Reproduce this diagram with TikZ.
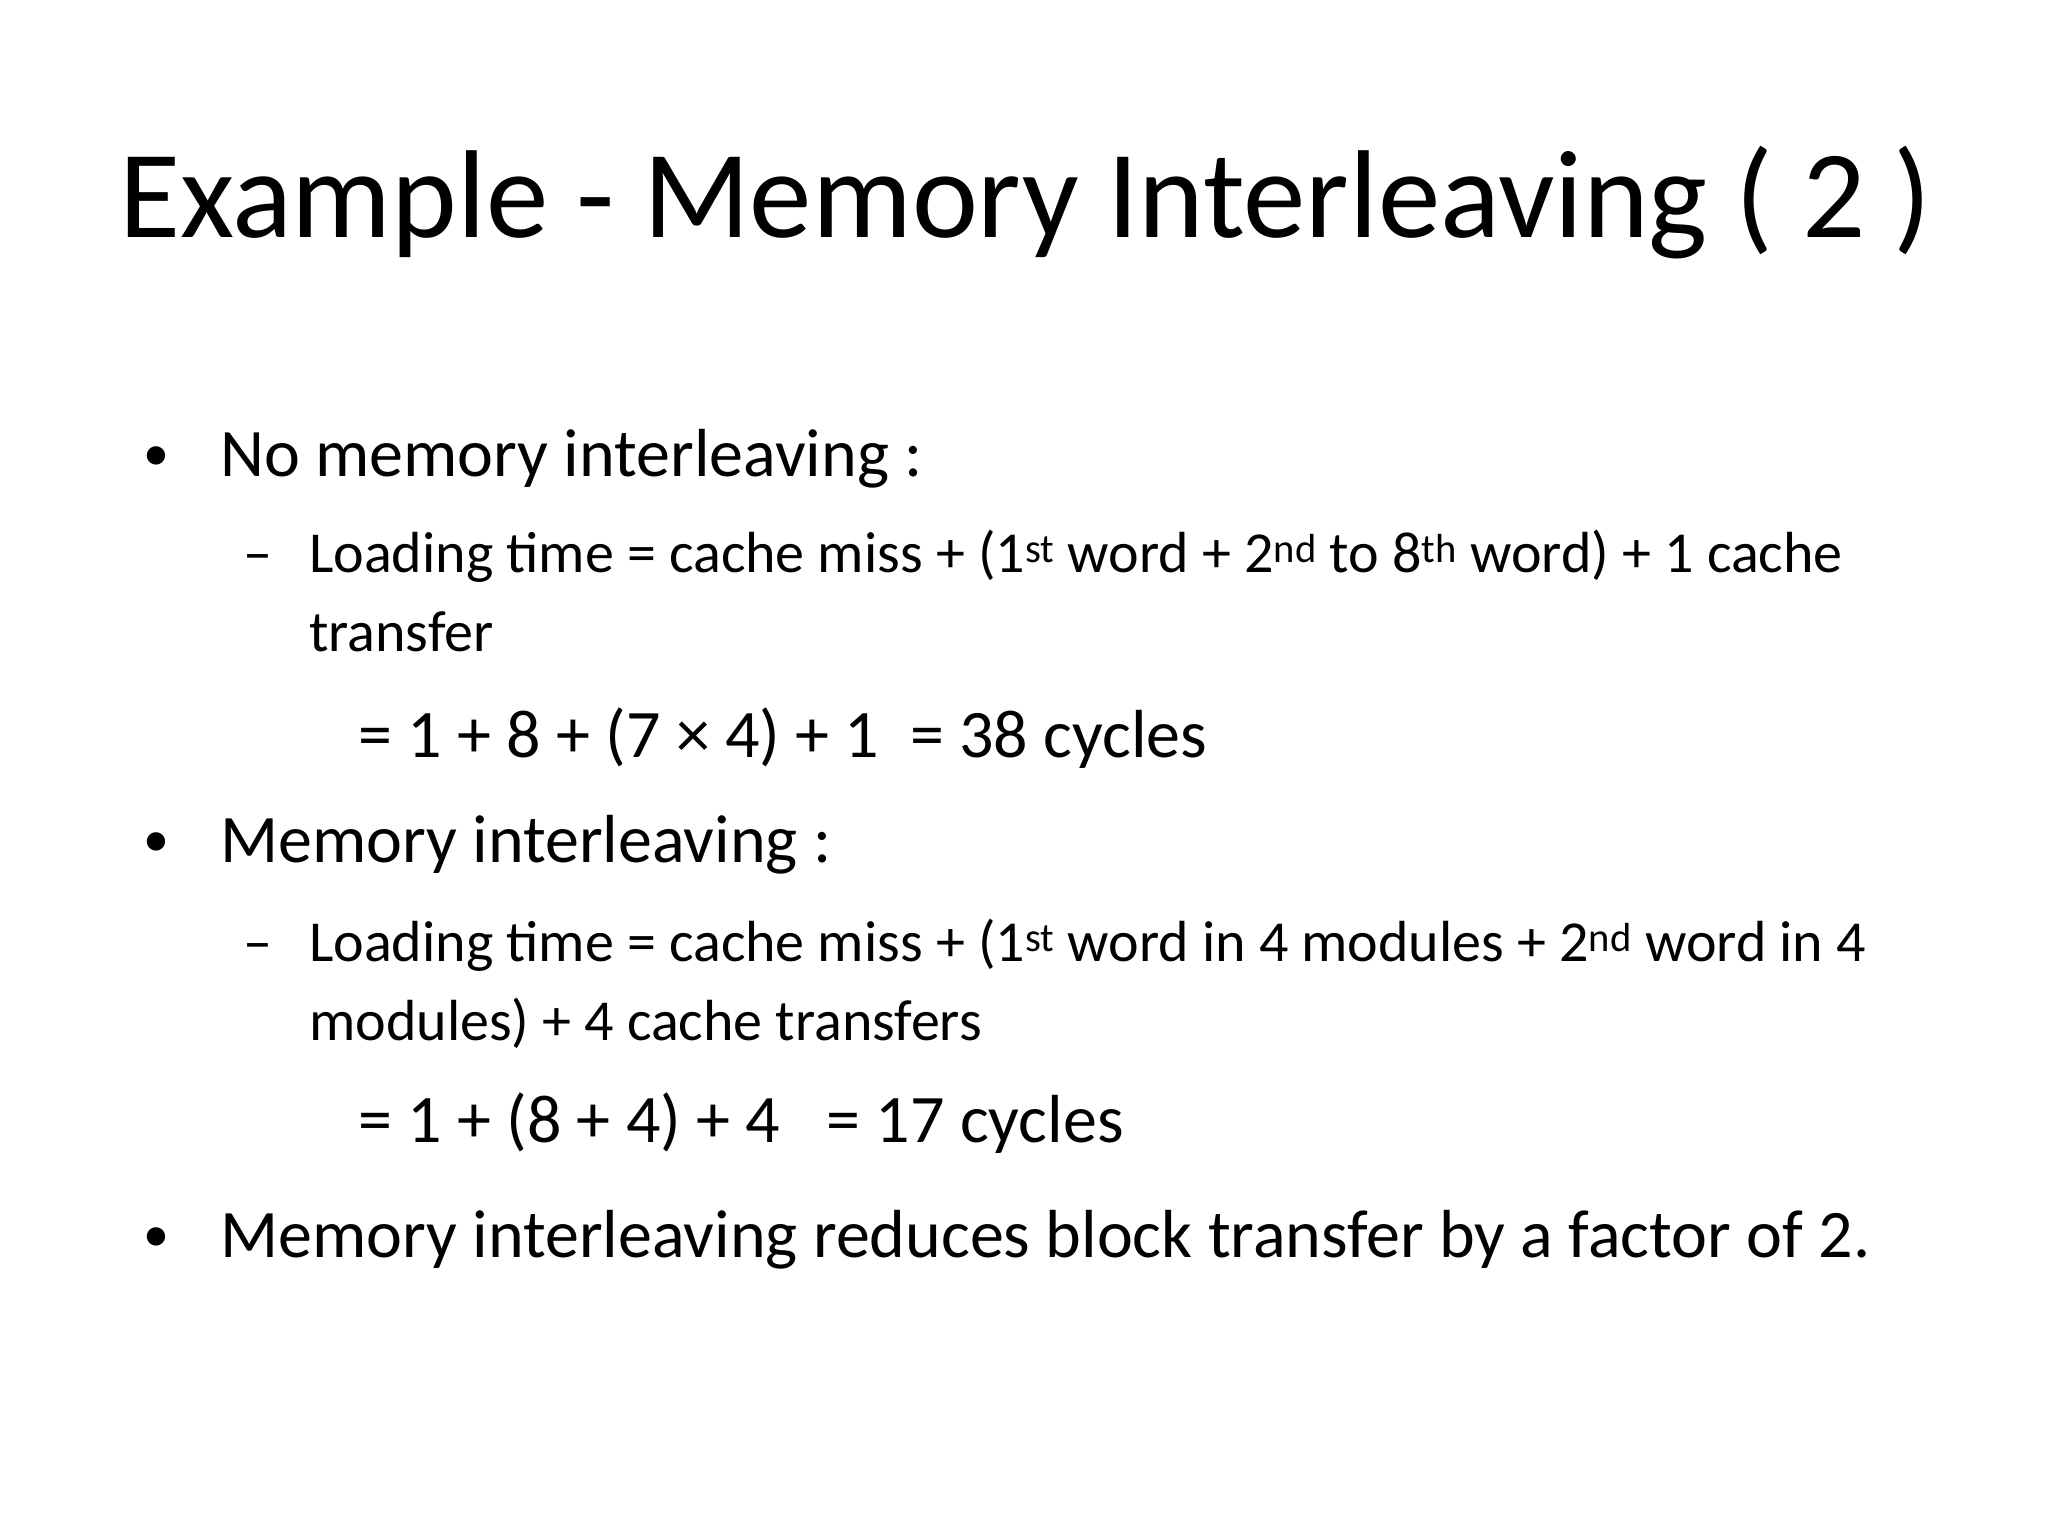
\documentclass[tikz,border=0pt]{standalone}
\usepackage{fontspec}
\setmainfont{Carlito}
\begin{document}
\begin{tikzpicture}[x=1pt,y=-1pt,
  t/.style={anchor=base west,inner sep=0pt,font=\fontsize{#1}{#1}\selectfont},
  t/.default=68]
\useasboundingbox[fill=white] (0,0) rectangle (2048,1536);
\node[t=125] (title) at (119,237) {Example - Memory Interleaving ( 2 )};
\node[t=52] (b1) at (143,470) {•};
\node[t] (l1) at (220,476) {No memory interleaving :};
\node[t=58] (d1) at (243,572) {–};
\node[t=58] (s1) at (309,572) {Loading time = cache miss + (1\textsuperscript{st} word + 2\textsuperscript{nd} to 8\textsuperscript{th} word) + 1 cache};
\node[t=58] (s1b) at (309,651) {transfer};
\node[t=68] (e1) at (358,757) {= 1 + 8 + (7 × 4) + 1 \ = 38 cycles};
\node[t=52] (b2) at (143,856) {•};
\node[t] (l2) at (220,862) {Memory interleaving :};
\node[t=58] (d2) at (243,961) {–};
\node[t=58] (s2) at (309,961) {Loading time = cache miss + (1\textsuperscript{st} word in 4 modules + 2\textsuperscript{nd} word in 4};
\node[t=58] (s2b) at (309,1040) {modules) + 4 cache transfers};
\node[t=68] (e2) at (358,1142) {= 1 + (8 + 4) + 4 \ \ = 17 cycles};
\node[t=52] (b3) at (143,1251) {•};
\node[t] (l3) at (220,1257) {Memory interleaving reduces block transfer by a factor of 2.};
\end{tikzpicture}
\end{document}
